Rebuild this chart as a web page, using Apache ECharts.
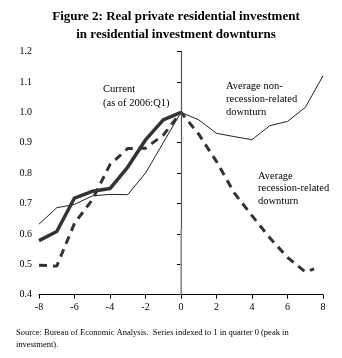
<!DOCTYPE html>
<html><head><meta charset="utf-8">
<script src="https://cdn.jsdelivr.net/npm/echarts@6/dist/echarts.min.js"></script>
<style>html,body{margin:0;padding:0;background:#fff}#c{width:342px;height:358px}</style>
</head><body><div id="c"></div>
<script>
const quarters = [-8,-7,-6,-5,-4,-3,-2,-1,0,1,2,3,4,5,6,7,8];
const currentQuarters = [-8,-7,-6,-5,-4,-3,-2,-1,0];
const currentVals = [0.578,0.608,0.718,0.740,0.749,0.820,0.909,0.975,1.0];
const nonRecessionVals = [0.632,0.686,0.697,0.725,0.730,0.729,0.800,0.900,1.0,0.975,0.931,0.920,0.910,0.956,0.970,1.016,1.120];
const recessionQuarters = [-8,-7,-6,-5,-4,-3,-2,-1,0,1,2,3,4,5,6,7,7.5];
const recessionVals = [0.497,0.494,0.635,0.712,0.828,0.881,0.882,0.925,1.0,0.928,0.838,0.735,0.660,0.587,0.523,0.475,0.485];
const yTicks = [0.4,0.5,0.6,0.7,0.8,0.9,1.0,1.1,1.2];
const xTicks = [-8,-6,-4,-2,0,2,4,6,8];
const peakQuarter = 0;
const vlineSplit = 0.615;

const pair = (xs, ys) => xs.map((x,i)=>[x, ys[i]]);
const serif = 'Liberation Serif';
const chart = echarts.init(document.getElementById('c'));
chart.setOption({
  animation:false,
  backgroundColor:'#fff',
  grid:{left:39,right:19,top:51.5,bottom:63.3},
  xAxis:{
    type:'value', min:xTicks[0], max:xTicks[xTicks.length-1], interval:2,
    axisLine:{onZero:false,lineStyle:{color:'#000',width:1}},
    axisTick:{length:4,lineStyle:{color:'#000'}},
    axisLabel:{fontFamily:serif,fontSize:10,color:'#000',margin:8},
    splitLine:{show:false}
  },
  yAxis:{
    type:'value', min:yTicks[0], max:yTicks[yTicks.length-1], interval:0.1,
    axisLine:{show:true,lineStyle:{color:'#000',width:1}},
    axisTick:{show:true,length:4,lineStyle:{color:'#000'}},
    axisLabel:{fontFamily:serif,fontSize:10,color:'#000',margin:7,formatter:v=>v.toFixed(1)},
    splitLine:{show:false}
  },
  series:[
    {type:'line',data:pair(quarters,nonRecessionVals),symbol:'none',
     lineStyle:{color:'#222',width:1},z:3,
     markLine:{silent:true,symbol:'none',label:{show:false},
       data:[
         [{coord:[peakQuarter,yTicks[yTicks.length-1]],lineStyle:{color:'#555',width:1.2,type:'solid'}},{coord:[peakQuarter,vlineSplit]}],
         [{coord:[peakQuarter,vlineSplit],lineStyle:{color:'#a8a8a8',width:1.6,type:'solid'}},{coord:[peakQuarter,yTicks[0]]}]
       ]}},
    {type:'line',data:pair(recessionQuarters,recessionVals),symbol:'none',
     lineStyle:{color:'#333',width:3,type:[8,6]},z:4},
    {type:'line',data:pair(currentQuarters,currentVals),symbol:'none',
     lineStyle:{color:'#333',width:3.5},z:5}
  ],
  graphic:[
    {type:'text',x:176,y:8,style:{text:'Figure 2: Real private residential investment\nin residential investment downturns',align:'center',fontFamily:serif,fontWeight:'bold',fontSize:13,lineHeight:17.5,fill:'#000'}},
    {type:'text',left:103,top:83,style:{text:'Current\n(as of 2006:Q1)',fontFamily:serif,fontSize:10.5,lineHeight:13.3,fill:'#000'}},
    {type:'text',left:226,top:80,style:{text:'Average non-\nrecession-related\ndownturn',fontFamily:serif,fontSize:10.5,lineHeight:13,fill:'#000'}},
    {type:'text',left:258,top:170,style:{text:'Average\nrecession-related\ndownturn',fontFamily:serif,fontSize:10.5,lineHeight:12.3,fill:'#000'}},
    {type:'text',left:16,top:327,style:{text:'Source: Bureau of Economic Analysis.  Series indexed to 1 in quarter 0 (peak in\ninvestment).',fontFamily:serif,fontSize:8.5,lineHeight:12,fill:'#000'}}
  ]
});
</script></body></html>
